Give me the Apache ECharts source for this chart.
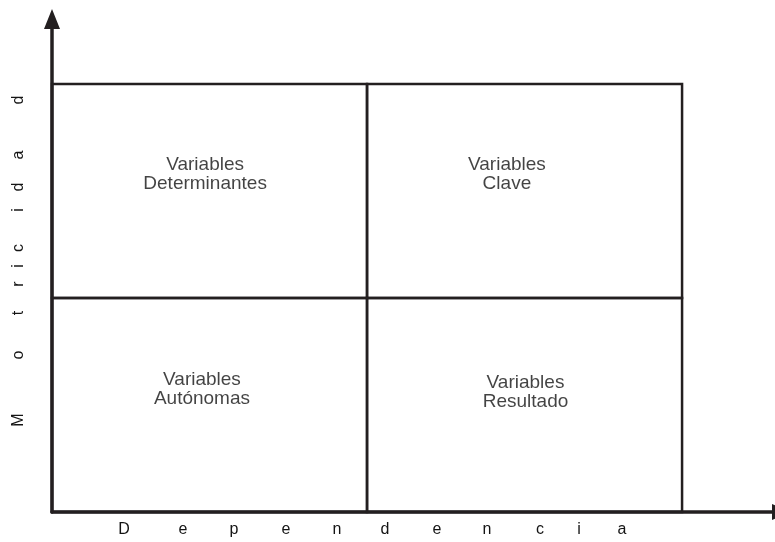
<!DOCTYPE html>
<html>
<head>
<meta charset="utf-8">
<script src="https://cdn.jsdelivr.net/npm/echarts@6/dist/echarts.min.js"></script>
<style>
html,body{margin:0;padding:0;background:#fff;}
#c{width:775px;height:542px;}
</style>
</head>
<body>
<div id="c"></div>
<script>
// ---- data ----
const quadrantBounds = [ // [x0, x1, y0, y1] in chart units
  [0, 1, 1, 2],
  [1, 2, 1, 2],
  [0, 1, 0, 1],
  [1, 2, 0, 1]
];
const quadrantNames = [
  'Variables\nDeterminantes',
  'Variables\nClave',
  'Variables\nAutónomas',
  'Variables\nResultado'
];
const quadrantLabelAt = [ // label anchor (chart units)
  [0.486, 1.579],
  [1.444, 1.579],
  [0.476, 0.575],
  [1.503, 0.561]
];
const xAxisLetters = ['D','e','p','e','n','d','e','n','c','i','a'];
const yAxisLetters = ['M','o','t','r','i','c','i','d','a','d'];

// ---- layout (pixels for axis-name letters) ----
const xLetterPos = [124, 183, 234, 286, 337, 385, 437, 487, 540, 579, 622];
const xLetterY = 530;
const yLetterPos = [420, 355, 313, 284, 266, 248, 210, 187, 155, 100];
const yLetterX = 19;

const ink = '#231f20';
const textInk = '#141414';
const letterFont = '16px "Liberation Sans", Arial, sans-serif';
const graphics = [];
xAxisLetters.forEach((t, i) => graphics.push({
  type: 'text', x: xLetterPos[i], y: xLetterY,
  style: {text: t, font: letterFont, fill: textInk, align: 'center', verticalAlign: 'middle'}
}));
yAxisLetters.forEach((t, i) => graphics.push({
  type: 'text', x: yLetterX, y: yLetterPos[i], rotation: Math.PI / 2,
  style: {text: t, font: letterFont, fill: textInk, align: 'center', verticalAlign: 'middle'}
}));

const chart = echarts.init(document.getElementById('c'), null, {renderer: 'canvas'});
chart.setOption({
  animation: false,
  backgroundColor: '#fff',
  grid: {left: 52, right: 0, top: 19, bottom: 30},
  xAxis: {
    type: 'value', min: 0, max: 2.295,
    splitLine: {show: false}, axisTick: {show: false}, axisLabel: {show: false},
    axisLine: {show: true, lineStyle: {color: ink, width: 3.5}, symbol: ['none', 'triangle'], symbolSize: [16, 20], symbolOffset: [0, 7]}
  },
  yAxis: {
    type: 'value', min: 0, max: 2.3037,
    splitLine: {show: false}, axisTick: {show: false}, axisLabel: {show: false},
    axisLine: {show: true, lineStyle: {color: ink, width: 3.5}, symbol: ['none', 'triangle'], symbolSize: [16, 20]}
  },
  series: [
    {
      type: 'custom',
      data: quadrantBounds,
      z: 1,
      renderItem: (params, api) => {
        const a = api.coord([api.value(0), api.value(3)]);
        const b = api.coord([api.value(1), api.value(2)]);
        return {
          type: 'rect',
          shape: {x: a[0], y: a[1], width: b[0] - a[0], height: b[1] - a[1]},
          style: {fill: 'none', stroke: ink, lineWidth: 2.5}
        };
      }
    },
    {
      type: 'scatter',
      symbolSize: 0,
      data: quadrantNames.map((n, i) => ({name: n, value: quadrantLabelAt[i]})),
      label: {
        show: true, position: 'inside', formatter: p => p.name,
        fontFamily: '"Liberation Sans", Arial, sans-serif', fontSize: 19, lineHeight: 19,
        color: textInk, align: 'center', verticalAlign: 'middle'
      },
      emphasis: {disabled: true}
    }
  ],
  graphic: graphics
});
</script>
</body>
</html>
